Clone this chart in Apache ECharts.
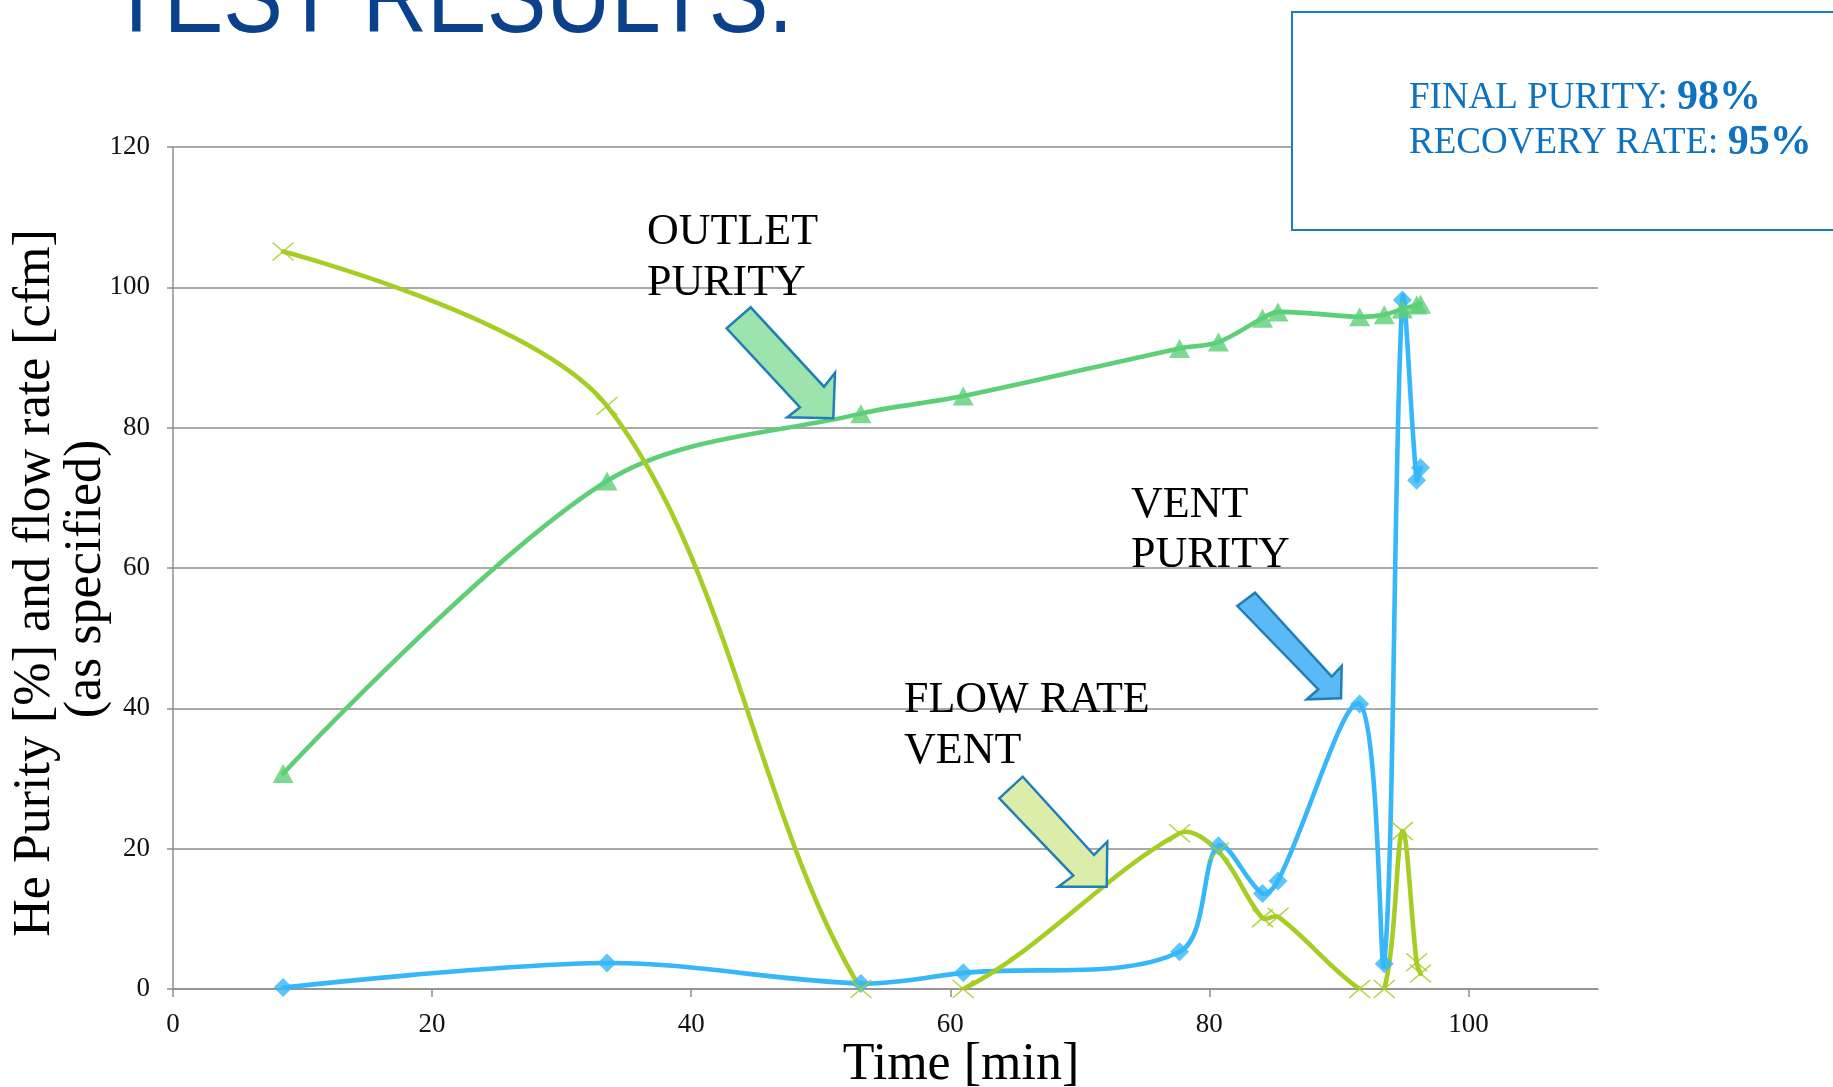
<!DOCTYPE html>
<html>
<head>
<meta charset="utf-8">
<script src="https://cdn.jsdelivr.net/npm/echarts@6/dist/echarts.min.js"></script>
<style>
html,body{margin:0;padding:0;background:#fff;}
#chart{width:1833px;height:1087px;}
</style>
</head>
<body>
<div id="chart"></div>
<script>
// ---- data ----
const times = [8.5, 33.5, 53.1, 61.0, 77.7, 80.7, 84.1, 85.3, 91.6, 93.5, 94.9, 96.0, 96.3];
const outletPurity = [30.7, 72.4, 82.0, 84.5, 91.3, 92.2, 95.6, 96.5, 95.8, 96.1, 96.9, 97.5, 97.6];
const ventPurity = [0.2, 3.7, 0.8, 2.3, 5.3, 20.4, 13.6, 15.4, 40.6, 3.6, 98.2, 72.5, 74.3];
const flowRateVent = [105.1, 83.1, 0, 0, 22.2, 19.6, 10.1, 10.3, 0, 0, 22.5, 3.8, 2.2];
const xTicks = [0, 20, 40, 60, 80, 100];
const yTicks = [0, 20, 40, 60, 80, 100, 120];

const title = 'TEST RESULTS.';
const yTitle1 = 'He Purity [%] and flow rate [cfm]';
const yTitle2 = '(as specified)';
const xTitle = 'Time [min]';

const pair = (ys) => times.map((t, i) => [t, ys[i]]);

const SERIF = '"Liberation Serif", "DejaVu Serif", serif';
const C_OUT = '#5dcf77', C_VENT = '#36b7fa', C_FLOW = '#a6cd23';
const ARROW_STROKE = '#1f80b8';
const SMOOTH = 0.33;

// spreadsheet-style smoothed curve through the data points (pixel positions from the axes)
function curvePath(pts, s) {
  const n = pts.length;
  const cin = [], cout = [];
  for (let i = 0; i < n; i++) {
    const p = pts[i];
    if (i === 0 || i === n - 1) { cin[i] = p; cout[i] = p; continue; }
    const a = pts[i - 1], b = pts[i + 1];
    const vx = b[0] - a[0], vy = b[1] - a[1];
    const lp = Math.hypot(p[0] - a[0], p[1] - a[1]);
    const ln = Math.hypot(b[0] - p[0], b[1] - p[1]);
    const tot = lp + ln || 1;
    cin[i] = [p[0] - vx * s * lp / tot, p[1] - vy * s * lp / tot];
    cout[i] = [p[0] + vx * s * ln / tot, p[1] + vy * s * ln / tot];
  }
  let d = 'M' + pts[0][0] + ' ' + pts[0][1];
  for (let i = 0; i < n - 1; i++) {
    d += ' C' + cout[i][0] + ' ' + cout[i][1] + ' ' + cin[i + 1][0] + ' ' + cin[i + 1][1] + ' ' + pts[i + 1][0] + ' ' + pts[i + 1][1];
  }
  return d;
}

function curveSeries(name, ys, color) {
  return {
    name: name, type: 'custom', data: pair(ys), silent: true,
    encode: {x: 0, y: 1},
    renderItem: function (params, api) {
      if (params.dataIndex !== 0) return null;
      const pts = times.map((t, i) => api.coord([t, ys[i]]));
      const cs = params.coordSys;
      return {
        type: 'path',
        shape: {pathData: curvePath(pts, SMOOTH)},
        style: {stroke: color, lineWidth: 4.6, fill: null, lineJoin: 'round', lineCap: 'round'},
        clipPath: {type: 'rect', shape: {x: cs.x, y: cs.y, width: cs.width, height: cs.height}}
      };
    }
  };
}

function markerSeries(name, ys, symbol, size, itemStyle) {
  return {name: name, type: 'scatter', data: pair(ys), symbol: symbol, symbolSize: size,
    clip: false, itemStyle: itemStyle, silent: true};
}

const chart = echarts.init(document.getElementById('chart'), null, {renderer: 'canvas'});

function txt(x, y, text) {
  return {type: 'text', x: x, y: y, z: 100,
    style: {text: text, font: '44px ' + SERIF, fill: '#000', textAlign: 'left', textVerticalAlign: 'middle'}};
}
function arrow(points, fill) {
  return {type: 'polygon', z: 100, shape: {points: points},
    style: {fill: fill, stroke: ARROW_STROKE, lineWidth: 2.5}};
}

const option = {
  animation: false,
  backgroundColor: '#fff',
  grid: {left: 173, right: 235, top: 147, bottom: 98, containLabel: false},
  xAxis: {
    type: 'value', min: 0, max: 110, interval: 20,
    splitLine: {show: false},
    axisLine: {show: true, lineStyle: {color: '#8e8e8e', width: 1.5}},
    axisTick: {show: true, length: 8, inside: false, customValues: xTicks,
      lineStyle: {color: '#8e8e8e', width: 1.5}},
    axisLabel: {customValues: xTicks, margin: 22, color: '#111',
      fontFamily: SERIF, fontSize: 27}
  },
  yAxis: {
    type: 'value', min: 0, max: 120, interval: 20,
    splitLine: {show: true, lineStyle: {color: '#8e8e8e', width: 1.5}},
    axisLine: {show: true, lineStyle: {color: '#8e8e8e', width: 1.5}},
    axisTick: {show: true, length: 6, inside: false, customValues: yTicks,
      lineStyle: {color: '#8e8e8e', width: 1.5}},
    axisLabel: {customValues: yTicks, margin: 23, color: '#111',
      fontFamily: SERIF, fontSize: 27}
  },
  series: [
    curveSeries('Vent purity', ventPurity, C_VENT),
    markerSeries('Vent purity points', ventPurity, 'diamond', 19, {color: C_VENT}),
    curveSeries('Outlet purity', outletPurity, C_OUT),
    markerSeries('Outlet purity points', outletPurity, 'triangle', [21, 19], {color: C_OUT}),
    curveSeries('Flow rate vent', flowRateVent, C_FLOW),
    markerSeries('Flow rate vent points', flowRateVent, 'path://M0,0L10,10M10,0L0,10', [21, 18],
      {color: 'rgba(0,0,0,0)', borderColor: C_FLOW, borderWidth: 1.6})
  ],
  graphic: [
    // title (cut off at top)
    {type: 'text', x: 109, y: 3, scaleX: 0.86, z: 100,
      style: {text: title, font: '104px "Liberation Sans", Arial, sans-serif',
        fill: '#0b408b', textAlign: 'left', textVerticalAlign: 'middle'}},
    // result box
    {type: 'rect', z: 100, shape: {x: 1292, y: 12, width: 600, height: 218},
      style: {fill: '#fff', stroke: '#1f7bc4', lineWidth: 2}},
    {type: 'text', x: 1409, y: 121, z: 101,
      style: {text: '{a|FINAL PURITY: }{b|98%}\n{a|RECOVERY RATE: }{b|95%}',
        textAlign: 'left', textVerticalAlign: 'middle',
        rich: {
          a: {fontFamily: SERIF, fontSize: 37, fill: '#0d72c0', lineHeight: 45},
          b: {fontFamily: SERIF, fontSize: 42, fontWeight: 'bold', fill: '#0d72c0', lineHeight: 45}
        }}},
    // annotations
    txt(647, 232, 'OUTLET'),
    txt(647, 283, 'PURITY'),
    txt(1131, 505, 'VENT'),
    txt(1131, 555.5, 'PURITY'),
    txt(904, 700, 'FLOW RATE'),
    txt(904, 751.5, 'VENT'),
    // arrows
    arrow([[726.7, 328.3], [750.7, 307.3], [824, 386.7], [835, 372.7], [833.3, 418.3], [787.3, 417.3], [800, 407.3]], '#9de3ad'),
    arrow([[1237.3, 606], [1255, 592.7], [1331.7, 676.7], [1341.7, 666], [1341, 698.3], [1306.7, 699.3], [1318.3, 689.3]], '#5bbaf5'),
    arrow([[999.3, 798.3], [1022.7, 776.7], [1094, 855], [1107.3, 841.7], [1106.7, 886.7], [1058.3, 886.7], [1073.3, 875.7]], '#dcedaa'),
    // axis titles
    {type: 'text', x: 35, y: 583, rotation: Math.PI / 2, z: 100,
      style: {text: yTitle1, font: '52px ' + SERIF, fill: '#000', textAlign: 'center', textVerticalAlign: 'middle'}},
    {type: 'text', x: 86, y: 579, rotation: Math.PI / 2, z: 100,
      style: {text: yTitle2, font: '52px ' + SERIF, fill: '#000', textAlign: 'center', textVerticalAlign: 'middle'}},
    {type: 'text', x: 961, y: 1065, z: 100,
      style: {text: xTitle, font: '52px ' + SERIF, fill: '#000', textAlign: 'center', textVerticalAlign: 'middle'}}
  ]
};
chart.setOption(option);
</script>
</body>
</html>
